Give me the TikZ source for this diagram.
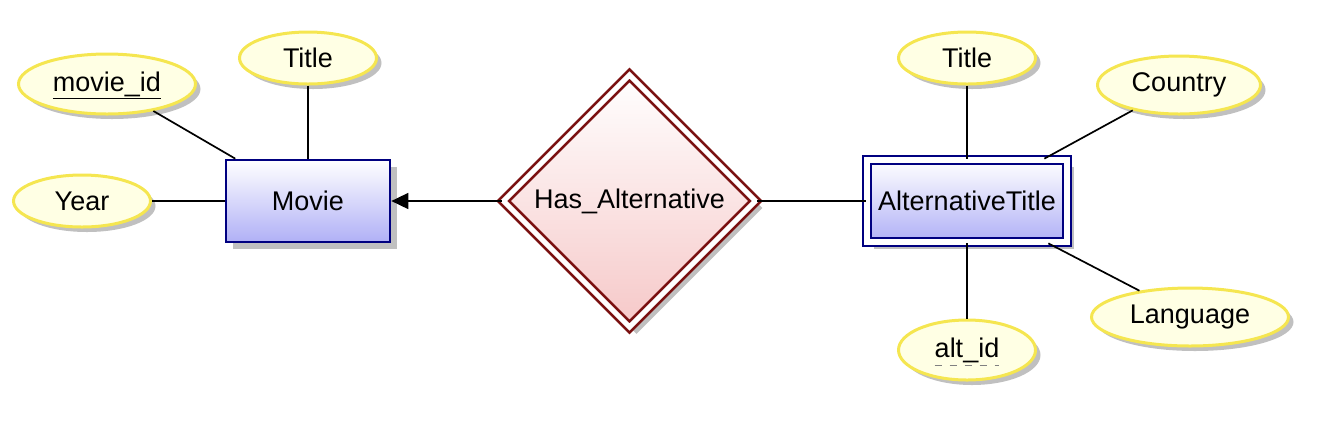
\documentclass[tikz,border=0pt]{standalone}
\usepackage{fontspec}
\setmainfont{Liberation Sans}
\usetikzlibrary{shapes.geometric,shadows,arrows.meta}

\definecolor{entityline}{RGB}{0,0,128}
\definecolor{entityfill}{RGB}{176,176,246}
\definecolor{relline}{RGB}{122,16,16}
\definecolor{relfill}{RGB}{246,200,200}
\definecolor{attrline}{RGB}{245,230,80}
\definecolor{attrfill}{RGB}{255,255,228}
\definecolor{shadowgray}{RGB}{192,192,192}

\begin{document}
\begin{tikzpicture}
	[
	x=0.5pt, y=-0.5pt,
	every node/.style={font=\fontsize{13.5}{16}\selectfont},
	boxshadow/.style={drop shadow={shadow xshift=3.5pt, shadow yshift=-3.5pt, fill=shadowgray, opacity=1}},
	ovalshadow/.style={drop shadow={shadow xshift=2.5pt, shadow yshift=-2.5pt, fill=shadowgray, opacity=1}},
	entity/.style={rectangle, draw=entityline, line width=1.35pt, top color=white, bottom color=entityfill, minimum width=82pt, minimum height=41pt, boxshadow},
	weak/.style={entity, double=white, double distance=2.6pt, minimum width=100pt},
	relation/.style={diamond, aspect=1, draw=relline, line width=1.3pt, double=white, double distance=2.6pt, top color=white, bottom color=relfill, minimum width=126.5pt, minimum height=126.5pt, inner sep=0pt, boxshadow},
	attr/.style={ellipse, draw=attrline, line width=1.5pt, fill=attrfill, minimum width=68.5pt, minimum height=26pt, inner sep=0pt, ovalshadow},
	keytext/.style={inner sep=0pt, outer sep=0pt},
	link/.style={line width=0.85pt},
	]
		\useasboundingbox (0,0) rectangle (1322,430);

		% entities
		\node[entity] (movie) at 		( 308, 201 ) {Movie};
		\node[weak] (alttitle) at 		( 967, 201 ) {AlternativeTitle};

		% relationship
		\node[relation] (hasalt) at 		( 629.5, 201 ) {Has\_Alternative};

		% attributes of Movie
		\node[attr, minimum width=88.5pt, minimum height=30pt,
			label={[keytext, name=midtext]center:movie\_id}] (mid) at 		( 107,  84 ) {};
		\node[attr] (mtitle) at 		( 308,  58 ) {Title};
		\node[attr] (myear) at 		(  82, 201 ) {Year};

		% attributes of AlternativeTitle
		\node[attr] (atitle) at 		( 967,  58 ) {Title};
		\node[attr, minimum width=81.5pt, minimum height=29pt] (acountry) at 		(1179,  85 ) {Country};
		\node[attr, minimum width=98.5pt, minimum height=29pt] (alang) at 		(1190, 317 ) {Language};
		\node[attr, minimum height=30pt,
			label={[keytext, name=aidtext]center:alt\_id}] (aid) at 		( 967, 350 ) {};

		% key underlines
		\draw[line width=0.5pt] ([yshift=-3.5pt]midtext.base west) -- ([yshift=-3.5pt]midtext.base east);
		\draw[gray, line width=0.5pt, dash pattern=on 3.5pt off 4pt] ([yshift=-4pt]aidtext.base west) -- ([yshift=-4pt]aidtext.base east);

		\foreach \from/\to in {mid/movie,mtitle/movie,myear/movie,atitle/alttitle,acountry/alttitle,alang/alttitle,aid/alttitle,hasalt/alttitle} \draw[link] (\from) -- (\to);
		\draw[link, -{Triangle[length=8.5pt,width=8pt]}] (hasalt) -- (movie);

	\end{tikzpicture}
\end{document}
